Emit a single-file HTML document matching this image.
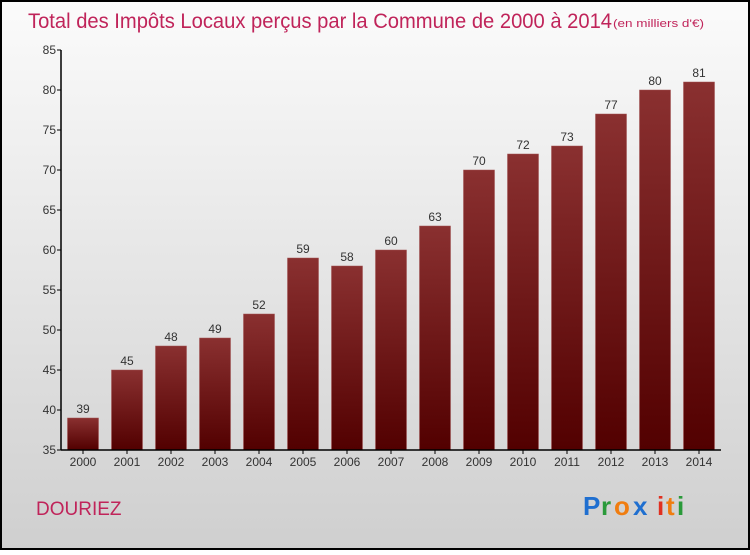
<!DOCTYPE html>
<html><head><meta charset="utf-8"><style>
html,body{margin:0;padding:0}
body{width:750px;height:550px;overflow:hidden;font-family:"Liberation Sans",sans-serif}
</style></head><body>
<svg width="750" height="550" xmlns="http://www.w3.org/2000/svg">
<defs>
<linearGradient id="bg" x1="0" y1="0" x2="0" y2="1"><stop offset="0" stop-color="#fbfbfb"/><stop offset="1" stop-color="#cfcfcf"/></linearGradient>
<linearGradient id="bar" x1="0" y1="0" x2="0" y2="1"><stop offset="0" stop-color="#8a3030"/><stop offset="1" stop-color="#520000"/></linearGradient>
</defs>
<rect x="1" y="1" width="748" height="548" fill="url(#bg)" stroke="#000" stroke-width="2"/>
<text x="28" y="28" font-size="21" fill="#c0245a" textLength="584" lengthAdjust="spacingAndGlyphs">Total des Impôts Locaux perçus par la Commune de 2000 à 2014</text>
<text x="613" y="27" font-size="11" fill="#c0245a" textLength="91" lengthAdjust="spacingAndGlyphs">(en milliers d'€)</text>
<g id="plot"></g>
<text x="36" y="515" font-size="19" fill="#c0245a">DOURIEZ</text>
<g font-size="26" font-weight="bold">
<text x="583" y="515" fill="#1f6fd0">P</text><text x="601" y="515" fill="#2a9a3a">r</text><text x="614" y="515" fill="#f07d10">o</text><text x="633" y="515" fill="#1f6fd0">x</text><text x="657" y="515" fill="#e03020">i</text><text x="666" y="515" fill="#f07d10">t</text><text x="677" y="515" fill="#2a9a3a">i</text>
</g>
</svg>
<script>
const years=["2000","2001","2002","2003","2004","2005","2006","2007","2008","2009","2010","2011","2012","2013","2014"];
const values=[39,45,48,49,52,59,58,60,63,70,72,73,77,80,81];
const yTicks=[35,40,45,50,55,60,65,70,75,80,85];
const NS="http://www.w3.org/2000/svg";
const g=document.getElementById('plot');
const x0=61,step=44,yMin=35,yMax=85,yBot=450,yTop=50;
const y=v=>yBot-(v-yMin)/(yMax-yMin)*(yBot-yTop);
const xc=i=>x0+step*i+step/2;
function mk(t,a,txt){const e=document.createElementNS(NS,t);for(const k in a)e.setAttribute(k,a[k]);if(txt!==undefined)e.textContent=txt;g.appendChild(e);return e;}
values.forEach((v,i)=>{
 const b=mk('rect',{x:xc(i)-15.5,y:y(v),width:31,height:yBot-y(v),fill:'url(#bar)',stroke:'#a05050','stroke-width':0.5});
 
 
 const l=mk('text',{x:xc(i),y:y(v)-5,'font-size':12,fill:'#333','text-anchor':'middle'},String(v));
 
 
 const t=mk('text',{x:xc(i),y:466,'font-size':12,fill:'#333','text-anchor':'middle'},years[i]);
 
 
 mk('line',{x1:xc(i),x2:xc(i),y1:yBot,y2:yBot+4,stroke:'#000'});
});
yTicks.forEach(v=>{
 mk('line',{x1:x0-4,x2:x0,y1:y(v),y2:y(v),stroke:'#000'});
 const t=mk('text',{x:x0-5,y:y(v)+4,'font-size':12,fill:'#333','text-anchor':'end'},String(v));
 
 
});
const ya=mk('line',{x1:x0,x2:x0,y1:yTop,y2:yBot,stroke:'#000','stroke-width':1.5});


const xa=mk('line',{x1:x0,x2:x0+step*years.length,y1:yBot,y2:yBot,stroke:'#000','stroke-width':1.5});


</script>
</body></html>
